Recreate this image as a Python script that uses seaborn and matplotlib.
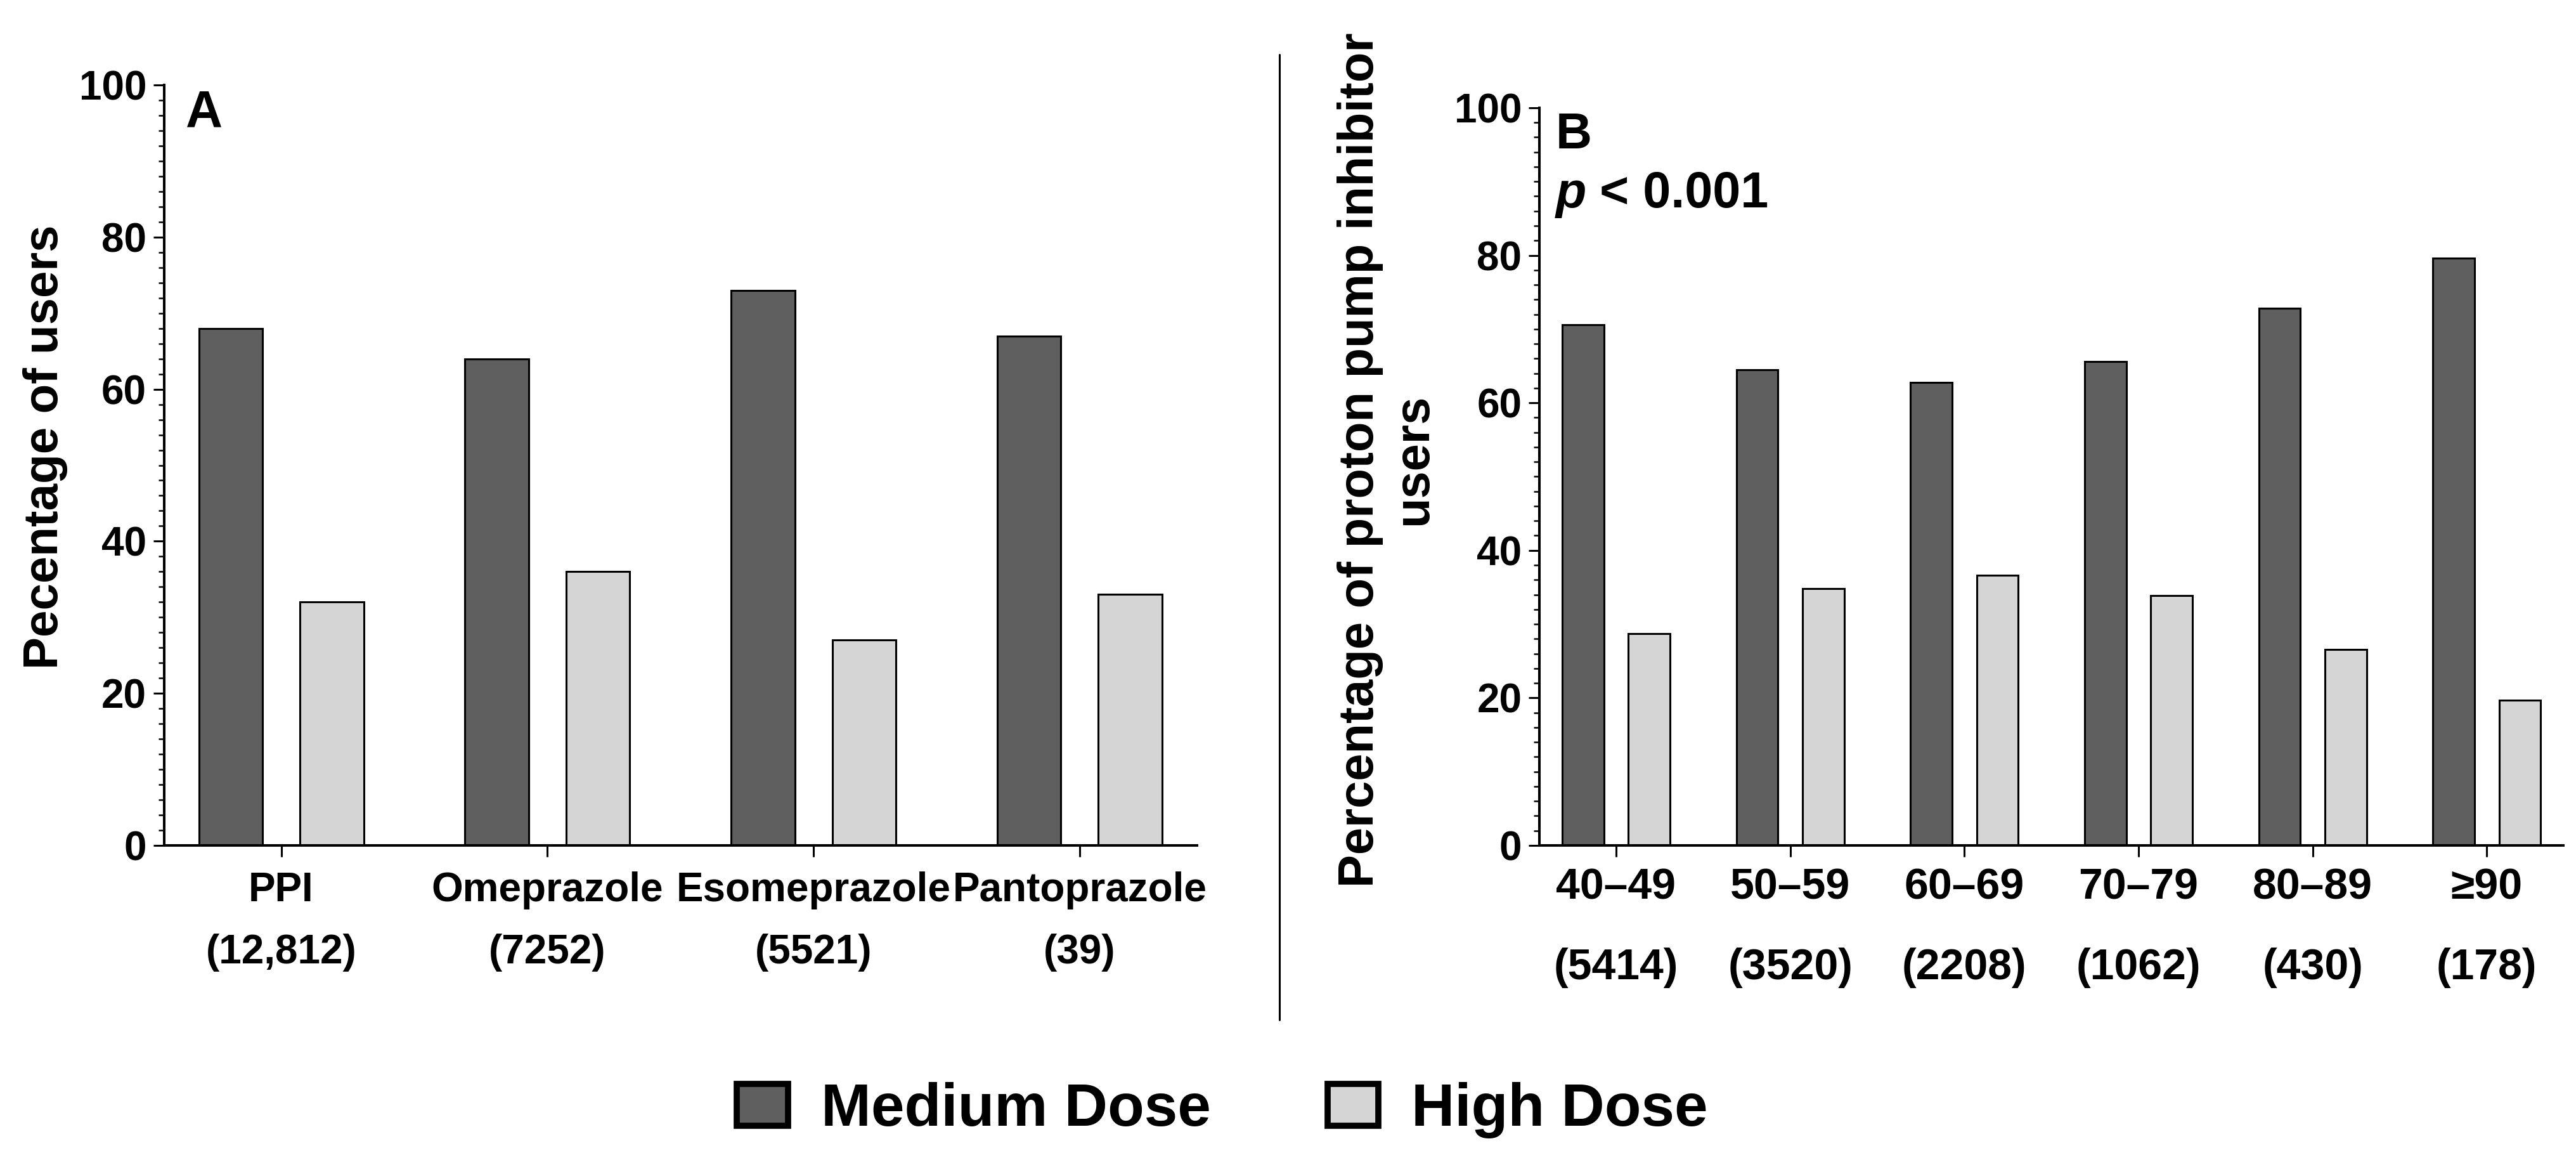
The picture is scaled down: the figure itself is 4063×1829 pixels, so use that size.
import pandas as pd
import seaborn as sns
import matplotlib.pyplot as plt
from matplotlib.lines import Line2D
from matplotlib.patches import Patch
from matplotlib.ticker import MultipleLocator

# data
drugs = ['PPI\n(12,812)', 'Omeprazole\n(7252)', 'Esomeprazole\n(5521)', 'Pantoprazole\n(39)']
drug_medium = [68, 64, 73, 67]
drug_high = [32, 36, 27, 33]

ages = ['40–49\n(5414)', '50–59\n(3520)', '60–69\n(2208)', '70–79\n(1062)', '80–89\n(430)', '≥90\n(178)']
age_medium = [70.6, 64.5, 62.8, 65.6, 72.8, 79.6]
age_high = [28.7, 34.8, 36.6, 33.9, 26.6, 19.7]

doses = ['Medium Dose', 'High Dose']
colors = {'Medium Dose': '#5f5f5f', 'High Dose': '#d5d5d5'}


def long_table(cats, med, high):
    return pd.DataFrame({
        'cat': cats * 2,
        'dose': [doses[0]] * len(cats) + [doses[1]] * len(cats),
        'pct': med + high,
    })


df_a = long_table(drugs, drug_medium, drug_high)
df_b = long_table(ages, age_medium, age_high)

sns.set_style('ticks')
plt.rcParams['font.family'] = ['Liberation Sans', 'DejaVu Sans']
plt.rcParams['font.weight'] = 'bold'
for key in ['text.color', 'axes.labelcolor', 'xtick.color', 'ytick.color',
            'axes.edgecolor']:
    plt.rcParams[key] = 'black'

fig = plt.figure(figsize=(40.63, 18.29), dpi=100)
ax_a = fig.add_axes([0.0637, 0.2712, 0.4009, 0.6555])
ax_b = fig.add_axes([0.5976, 0.2712, 0.3975, 0.6359])


def style_axis(ax, df, n, xsize, xpad, linesp):
    sns.barplot(data=df, x='cat', y='pct', hue='dose', hue_order=doses,
                palette=colors, width=0.76, gap=0.37, edgecolor='black',
                linewidth=2.2, legend=False, ax=ax)
    ax.set_xlim(-0.44, n - 1 + 0.44)
    ax.set_ylim(0, 100)
    ax.yaxis.set_major_locator(MultipleLocator(20))
    ax.yaxis.set_minor_locator(MultipleLocator(2))
    sns.despine(ax=ax)
    for s in ['left', 'bottom']:
        ax.spines[s].set_linewidth(2.9)
    ax.tick_params(axis='y', which='major', length=12, width=2.2, pad=8,
                   labelsize=46)
    ax.tick_params(axis='y', which='minor', length=6.5, width=1.8)
    ax.tick_params(axis='x', length=13, width=2.2, pad=xpad, labelsize=xsize)
    for lab in ax.get_xticklabels() + ax.get_yticklabels():
        lab.set_fontweight('bold')
    for lab in ax.get_xticklabels():
        lab.set_linespacing(linesp)
    ax.set_xlabel('')


style_axis(ax_a, df_a, len(drugs), 46, 16.5, 1.82)
style_axis(ax_b, df_b, len(ages), 49, 11.5, 2.26)

ax_a.set_ylabel('Pecentage of users', fontsize=55, fontweight='bold')
ax_a.yaxis.set_label_coords(-0.093, 0.524)
ax_b.set_ylabel('Percentage of proton pump inhibitor\nusers', fontsize=56,
                fontweight='bold', linespacing=1.2)
ax_b.yaxis.set_label_coords(-0.1, 0.523)

ax_a.text(0.021, 0.995, 'A', transform=ax_a.transAxes, fontsize=58,
          fontweight='bold', va='top', ha='left')
ax_b.text(0.016, 0.995, 'B', transform=ax_b.transAxes, fontsize=57,
          fontweight='bold', va='top', ha='left')
ax_b.text(0.016, 0.915, 'p', transform=ax_b.transAxes, fontsize=57,
          fontweight='bold', fontstyle='italic', va='top', ha='left')
ax_b.text(0.059, 0.915, '< 0.001', transform=ax_b.transAxes, fontsize=57,
          fontweight='bold', va='top', ha='left')

# divider between the two panels
fig.add_artist(Line2D([0.4967, 0.4967], [0.953, 0.121], color='black',
                      linewidth=2.2, transform=fig.transFigure))

handles = [Patch(facecolor=colors[d], edgecolor='black', linewidth=7, label=d)
           for d in doses]
fig.legend(handles=handles, loc='center', bbox_to_anchor=(0.4745, 0.043),
           ncol=2, frameon=False, prop={'size': 68, 'weight': 'bold'},
           handlelength=0.85, handleheight=0.7, handletextpad=0.55,
           columnspacing=1.95)

fig.savefig('out.png', dpi=100, facecolor='white')
